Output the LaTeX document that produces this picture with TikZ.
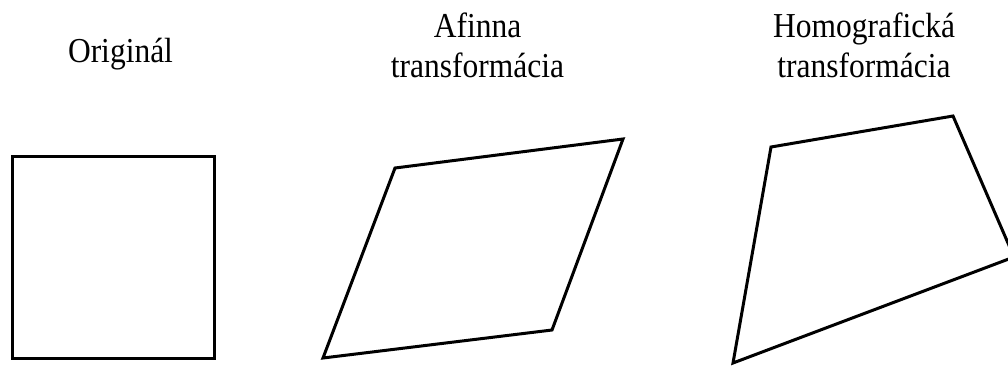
\documentclass[tikz,border=0pt]{standalone}
\usepackage{fontspec}
\setmainfont[FakeStretch=0.9]{Liberation Serif}
\usepackage{tikz}

\begin{document}
\begin{tikzpicture}[x=1pt, y=-1pt,
  shp/.style={line width=3pt, line join=miter},
  lbl/.style={anchor=base, align=center, inner sep=0pt,
    font=\fontsize{35}{40}\selectfont}]
  \useasboundingbox (0,0) rectangle (1008,365);
  \clip (0,0) rectangle (1008,365);
  % original square
  \draw[shp] (12.5,156.5) rectangle (214,358.5);
  \node[lbl] (orig) at (120.5,62) {Originál};
  % affine
  \coordinate (a1) at (395,168);
  \coordinate (a2) at (623,139);
  \coordinate (a3) at (552,330);
  \coordinate (a4) at (323,358);
  \draw[shp] (a1) -- (a2) -- (a3) -- (a4) -- cycle;
  \node[lbl] (aff) at (477.5,77) {Afinna\\transformácia};
  % homography
  \coordinate (h1) at (771,147);
  \coordinate (h2) at (953,116);
  \coordinate (h3) at (1014,257);
  \coordinate (h4) at (733,363);
  \draw[shp] (h1) -- (h2) -- (h3) -- (h4) -- cycle;
  \node[lbl] (hom) at (864,77) {Homografická\\transformácia};
\end{tikzpicture}
\end{document}
